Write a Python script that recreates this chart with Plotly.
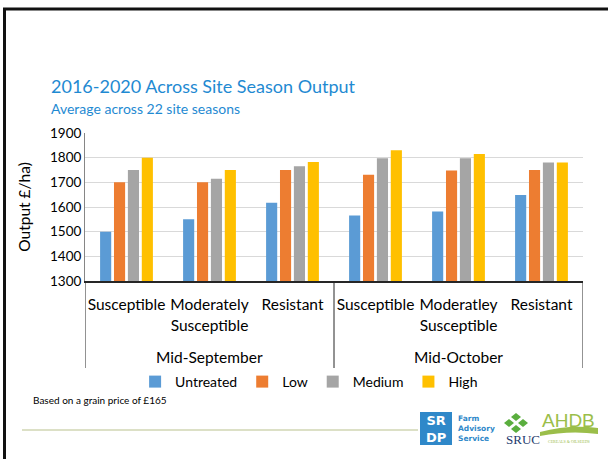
import plotly.graph_objects as go

# ---- data ----
timings = ["Mid-September", "Mid-October"]
varieties = ["Susceptible", "Moderately<br>Susceptible", "Resistant",
             "Susceptible", "Moderatley<br>Susceptible", "Resistant"]
untreated = [1500, 1550, 1617, 1566, 1582, 1649]
low = [1700, 1700, 1750, 1731, 1748, 1750]
medium = [1750, 1715, 1765, 1798, 1798, 1780]
high = [1800, 1750, 1782, 1830, 1815, 1780]
series_names = ["Untreated", "Low", "Medium", "High"]
series_colors = ["#5B9BD5", "#ED7D31", "#A5A5A5", "#FFC000"]

W, H = 608, 459
L, R, T, B = 85, 583, 133, 281  # plot area in px


def px(x):
    return (x - L) / (R - L)


def py(y):
    return (B - y) / (B - T)


FONT = "Lato"
xpos = list(range(len(varieties)))
per_group = len(varieties) // len(timings)

fig = go.Figure()
for name, vals, col in zip(series_names, [untreated, low, medium, high], series_colors):
    fig.add_trace(go.Bar(name=name, x=xpos, y=vals,
                         marker=dict(color=col, line=dict(width=0))))

fig.update_layout(
    width=W, height=H,
    margin=dict(l=L, r=W - R, t=T, b=H - B, pad=0),
    paper_bgcolor="white", plot_bgcolor="white",
    barmode="group", bargap=0.33, bargroupgap=0.2,
    font=dict(family=FONT, size=15, color="#000000"),
    showlegend=True,
    legend=dict(orientation="h", x=0.45, xanchor="center", y=py(382), yanchor="middle",
                font=dict(size=14, color="#000000"), itemwidth=30, traceorder="normal",
                bgcolor="rgba(0,0,0,0)", tracegroupgap=0),
)
fig.update_yaxes(range=[1300, 1900], dtick=100, showgrid=True, gridcolor="#D9D9D9",
                 gridwidth=1, showline=True, linecolor="#868686", linewidth=1,
                 zeroline=False, ticks="", tickfont=dict(size=13.5), automargin=False,
                 title=dict(text="Output £/ha)", font=dict(size=15.5), standoff=15))
fig.update_xaxes(range=[-0.5, len(varieties) - 0.5], tickmode="array", tickvals=xpos,
                 ticktext=varieties, tickangle=0, showline=True, linecolor="#262626",
                 linewidth=1.5, ticks="", tickfont=dict(size=15.5), showgrid=False,
                 zeroline=False, automargin=False, ticklabelstandoff=9)

shapes = [
    # slide frame
    dict(type="line", xref="paper", yref="paper", x0=px(3), x1=px(608), y0=py(9), y1=py(9),
         line=dict(color="#111111", width=3)),
    dict(type="line", xref="paper", yref="paper", x0=px(4.5), x1=px(4.5), y0=py(8), y1=py(459),
         line=dict(color="#111111", width=3)),
    # footer rule
    dict(type="line", xref="paper", yref="paper", x0=px(22), x1=px(418), y0=py(430), y1=py(430),
         line=dict(color="#DCE0C6", width=2)),
    # SRDP box
    dict(type="rect", xref="paper", yref="paper", x0=px(420), x1=px(452), y0=py(412), y1=py(445),
         fillcolor="#2F88C9", line=dict(width=0)),
]
# category dividers (group boundaries)
for k in range(len(timings) + 1):
    xb = k * per_group - 0.5
    shapes.append(dict(type="line", xref="x", yref="paper", x0=xb, x1=xb, y0=0, y1=py(368),
                       line=dict(color="#262626", width=1)))
# SRUC diamonds
for cx, cy in [(516, 417), (509, 423), (523, 423), (516, 429)]:
    shapes.append(dict(type="path", xref="paper", yref="paper",
                       path=f"M {px(cx-5)} {py(cy)} L {px(cx)} {py(cy-4)} L {px(cx+5)} {py(cy)} L {px(cx)} {py(cy+4)} Z",
                       fillcolor="#5AAE3E", line=dict(width=0)))
# AHDB swoosh
shapes.append(dict(type="path", xref="paper", yref="paper",
                   path=f"M {px(540)} {py(432)} Q {px(570)} {py(424)} {px(598)} {py(428)} L {px(598)} {py(434)} Q {px(570)} {py(430)} {px(540)} {py(436)} Z",
                   fillcolor="#9BBE4A", line=dict(width=0)))
fig.update_layout(shapes=shapes)

ann = [
    dict(text="2016-2020 Across Site Season Output", x=px(49), y=py(86), xanchor="left",
         yanchor="middle", font=dict(size=18, color="#1F8AD2")),
    dict(text="Average across 22 site seasons", x=px(49), y=py(108), xanchor="left",
         yanchor="middle", font=dict(size=14, color="#1F8AD2")),
    dict(text="Based on a grain price of £165", x=px(31), y=py(400), xanchor="left",
         yanchor="middle", font=dict(size=10, color="#000000")),
    dict(text="<b>SR<br>DP</b>", x=px(436), y=py(428.5), xanchor="center", yanchor="middle",
         font=dict(size=13, color="white", family="DejaVu Sans"), align="center"),
    dict(text="<b>Farm<br>Advisory<br>Service</b>", x=px(456), y=py(428.5), xanchor="left",
         yanchor="middle", align="left", font=dict(size=7.5, color="#2F88C9", family="DejaVu Sans")),
    dict(text="SRUC", x=px(523), y=py(439), xanchor="center", yanchor="middle",
         font=dict(size=13, color="#1F3B6E", family="Liberation Serif")),
    dict(text="AHDB", x=px(568), y=py(420), xanchor="center", yanchor="middle",
         font=dict(size=19, color="#9BBE4A", family="Liberation Sans")),
    dict(text="CEREALS &amp; OILSEEDS", x=px(569), y=py(441), xanchor="center", yanchor="middle",
         font=dict(size=4, color="#9BBE4A", family="Liberation Serif")),
]
# group labels, centred on each group via the x axis
for g, name in enumerate(timings):
    ann.append(dict(text=name, x=g * per_group + (per_group - 1) / 2, xref="x",
                    y=py(357), yanchor="middle", font=dict(size=15.5, color="#000000")))
for a in ann:
    a.setdefault("xref", "paper")
    a.update(yref="paper", showarrow=False)
fig.update_layout(annotations=ann)

fig.write_html("out.html", config={"displayModeBar": False},
               post_script="document.body.style.margin='0';document.body.style.padding='0';")
